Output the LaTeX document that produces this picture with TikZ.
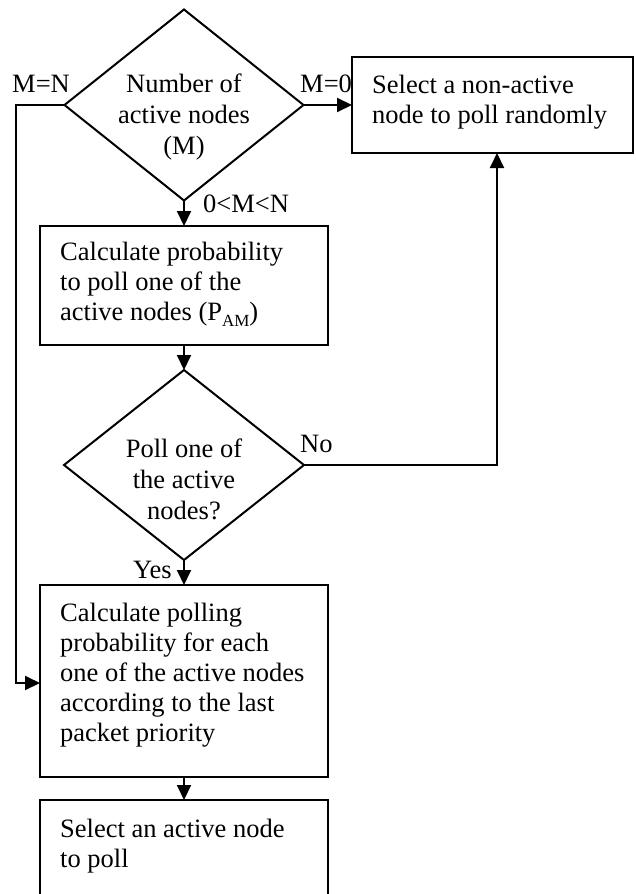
\documentclass[tikz,border=0pt]{standalone}
\usepackage{fontspec}
\setmainfont{Liberation Serif}
\usetikzlibrary{shapes.geometric,arrows.meta}
\begin{document}
\begin{tikzpicture}[x=1pt,y=-1pt,
  box/.style={draw,line width=2pt,rectangle,inner sep=0pt,outer sep=0pt},
  dec/.style={draw,line width=2pt,diamond,inner sep=0pt,outer sep=0pt},
  txt/.style={inner sep=0pt,align=left,font=\fontsize{26.5}{30}\selectfont},
  ctxt/.style={inner sep=0pt,align=center,font=\fontsize{26.5}{31}\selectfont},
  lbl/.style={inner sep=0pt,font=\fontsize{26.5}{30}\selectfont},
  arr/.style={line width=2pt,-{Triangle[length=15pt,width=14pt]}},
  ln/.style={line width=2pt}]
\useasboundingbox (0,0) rectangle (635,894);
% shapes
\node[dec,minimum width=239pt,minimum height=191pt] (d1) at (184,105) {};
\node[box,minimum width=281pt,minimum height=96pt] (sel) at (492.5,105) {};
\node[box,minimum width=288pt,minimum height=119pt] (calc) at (184,285.5) {};
\node[dec,minimum width=240pt,minimum height=190pt] (d2) at (184,465) {};
\node[box,minimum width=288pt,minimum height=192pt] (pp) at (184,681) {};
\node[box,minimum width=288pt,minimum height=130pt] (fin) at (184,865) {};
% texts
\node[ctxt,anchor=north] (t1) at (184,74) {Number of\\active nodes\\(M)};
\node[txt,anchor=north west] (t2) at (372,75) {Select a non-active\\node to poll randomly};
\node[txt,anchor=north west] (t3) at (60,242) {Calculate probability\\to poll one of the\\active nodes (P\raisebox{-0.22em}{\fontsize{17}{17}\selectfont AM})};
\node[ctxt,anchor=north] (t4) at (184,439) {Poll one of\\the active\\nodes?};
\node[txt,anchor=north west] (t5) at (60,603) {Calculate polling\\probability for each\\one of the active nodes\\according to the last\\packet priority};
\node[txt,anchor=north west] (t6) at (60,819) {Select an active node\\to poll};
% labels
\node[lbl,anchor=base west] (lmn) at (12,92) {M=N};
\node[lbl,anchor=base west] (lm0) at (300,92) {M=0};
\node[lbl,anchor=base west] (lmid) at (203,212) {0<M<N};
\node[lbl,anchor=base west] (lno) at (300,452) {No};
\node[lbl,anchor=base west] (lyes) at (133,578) {Yes};
% connectors
\draw[arr] (d1.east) -- (sel.west);
\draw[arr] (d1.south) -- (calc.north);
\draw[arr] (calc.south) -- (d2.north);
\draw[arr] (d2.south) -- (pp.north);
\draw[arr] (pp.south) -- (fin.north);
\draw[arr] (d2.east) -| ([xshift=4.5pt]sel.south);
\draw[arr] (d1.west) -| (16,683) -- (pp.west |- 0,683);
\end{tikzpicture}
\end{document}
